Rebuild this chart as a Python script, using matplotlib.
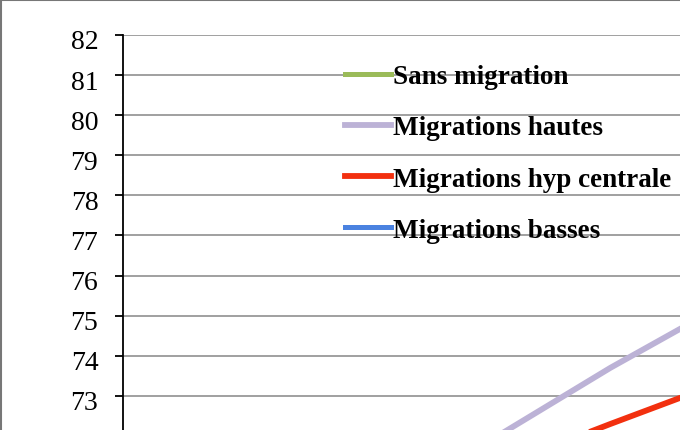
import matplotlib.pyplot as plt
from matplotlib.patches import Rectangle
from matplotlib.transforms import ScaledTranslation

# donnees (partie visible du graphique)
annees = [2035, 2040, 2045, 2050, 2055]
mig_hautes = [71.6, 72.65, 73.7, 74.67, 75.6]
mig_centrale = [70.9, 71.63, 72.3, 72.95, 73.4]
labels = ['Sans migration', 'Migrations hautes', 'Migrations hyp centrale', 'Migrations basses']
couleurs = ['#9bbb59', '#bcb2d6', '#f2300f', '#4a82e0']
yticks = list(range(70, 83))

W, H = 680, 431
fig = plt.figure(figsize=(6.8, 4.31), dpi=100)

# axes plus grands que l'image : le graphique d'origine est recadre
left, top = 123, 36
px_unite = 40.1
y0, y1 = 70, 82
px_an = (680 - 123) / 40.0
x0, x1 = 2010, 2060
ax = fig.add_axes([left / W, (H - top - (y1 - y0) * px_unite) / H,
                   (x1 - x0) * px_an / W, (y1 - y0) * px_unite / H])
ax.set_xlim(x0, x1)
ax.set_ylim(y0, y1)

ax.plot([], [], color=couleurs[0], lw=3.6, label=labels[0])
ax.plot(annees, mig_hautes, color=couleurs[1], lw=4.2, label=labels[1])
ax.plot(annees, mig_centrale, color=couleurs[2], lw=4.2, label=labels[2])
ax.plot([], [], color=couleurs[3], lw=3.6, label=labels[3])

ax.set_yticks(yticks)
ax.set_yticklabels([str(v) for v in yticks], fontfamily='Liberation Serif', fontsize=20)
ax.tick_params(axis='y', length=5.8, width=1.3, pad=12, direction='out')
decal = ScaledTranslation(0, -4 / 100, fig.dpi_scale_trans)
for t in ax.get_yticklabels():
    t.set_transform(t.get_transform() + decal)
ax.set_xticks([])
ax.grid(axis='y', color='#999999', lw=1.3)
ax.set_axisbelow(True)
for s in ['top', 'right', 'bottom']:
    ax.spines[s].set_visible(False)
ax.spines['left'].set_linewidth(1.3)

leg = ax.legend(loc='upper left', bbox_to_anchor=((345 - 123) / ((x1 - x0) * px_an), 1 - (65 - top) / ((y1 - y0) * px_unite)),
                frameon=False, prop={'family': 'Liberation Serif', 'weight': 'bold', 'size': 19.5},
                handlelength=1.7, handletextpad=0.06, labelspacing=0.97, borderaxespad=0, borderpad=0)

fig.patches.append(Rectangle((0.5 / W, -1), 2, 1 + (H - 1) / H, transform=fig.transFigure,
                             fill=False, edgecolor='#777777', lw=1.5))

fig.savefig('out.png', dpi=100)
